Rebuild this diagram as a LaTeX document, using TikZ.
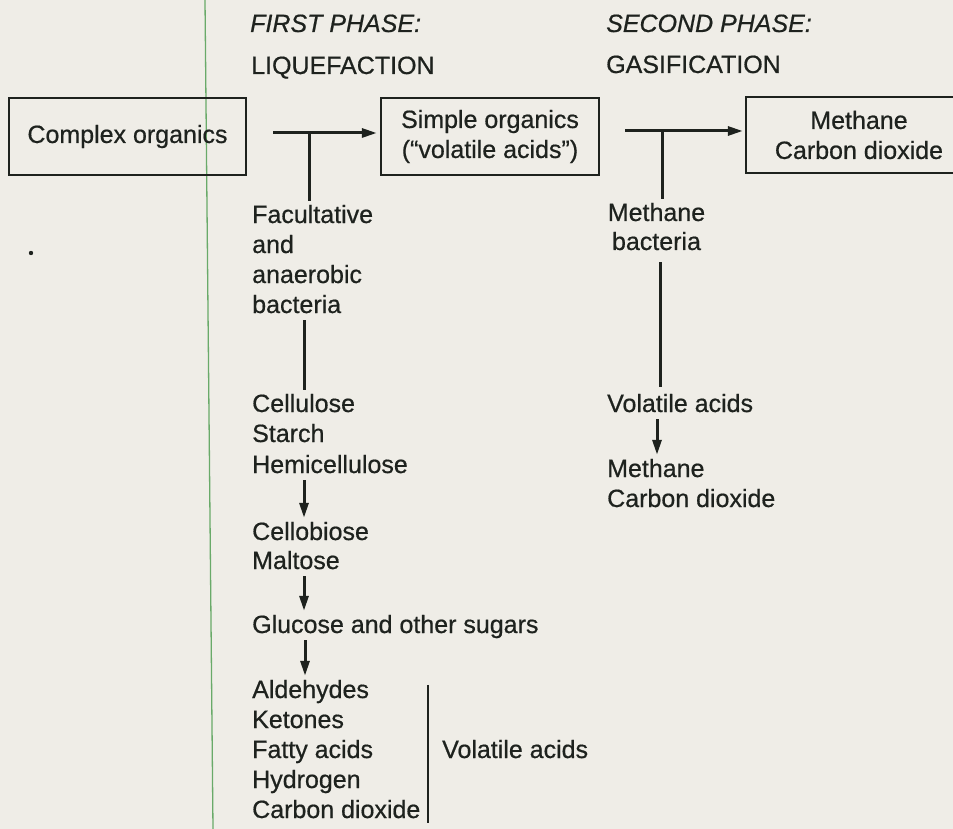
\documentclass[tikz,border=0pt]{standalone}
\usepackage{fontspec}
\setmainfont[FakeBold=0.6]{Liberation Sans}
\usetikzlibrary{arrows.meta,calc}
\definecolor{paper}{RGB}{239,237,231}
\definecolor{ink}{RGB}{30,34,30}
\definecolor{rulegreen}{RGB}{105,170,105}
\begin{document}
\begin{tikzpicture}[x=1pt,y=-1pt,
  every node/.style={font=\fontsize{25}{30}\selectfont, text=ink},
  txt/.style={inner sep=0pt, text height=22pt, text depth=7pt, anchor=base west},
  ctxt/.style={txt, anchor=base},
  ital/.style={font=\fontsize{25}{30}\selectfont\itshape},
  box/.style={draw=ink, line width=2.4pt, inner sep=0pt, align=center},
  openbox/.style={inner sep=0pt, align=center},
  boxline/.style={draw=ink, line width=2.4pt},
  flow/.style={draw=ink, line width=3pt},
  arr/.style={flow, -{Triangle[length=15pt,width=9pt]}},
  barline/.style={draw=ink, line width=2.4pt}]
\useasboundingbox (0,0) rectangle (953,829);
\clip (0,0) rectangle (953,829);
\fill[paper] (0,0) rectangle (953,829);
\draw[rulegreen, line width=1.3pt] (205,0) -- (213,829);
\fill[ink] (31,253) circle (2.2pt);
% boxes
\node[box, minimum width=237pt, minimum height=77pt] (co) at (127.5,136.5) {Complex organics};
\node[box, minimum width=218pt, minimum height=77pt] (so) at (490,136.5) {Simple organics\\(“volatile acids”)};
\node[openbox, minimum width=226pt, minimum height=76pt] (mc) at (859,135) {Methane\\Carbon dioxide};
\draw[boxline] ($(mc.north east)+(30,0)$) -- (mc.north west) -- (mc.south west) -- ($(mc.south east)+(30,0)$);
% headings
\node[txt, ital] (h1) at (250,32) {FIRST PHASE:};
\node[txt] (h2) at (251,74) {LIQUEFACTION};
\node[txt, ital] (h3) at (606,32) {SECOND PHASE:};
\node[txt] (h4) at (606,73) {GASIFICATION};
% left column
\node[txt] (fac) at (252,223) {Facultative};
\node[txt] (and) at (252,253) {and};
\node[txt] (ana) at (252,283) {anaerobic};
\node[txt] (bac) at (252,313) {bacteria};
\node[txt] (cel) at (252,412) {Cellulose};
\node[txt] (sta) at (252,442) {Starch};
\node[txt] (hem) at (252,473) {Hemicellulose};
\node[txt] (cbi) at (252,540) {Cellobiose};
\node[txt] (mal) at (252,569) {Maltose};
\node[txt] (glu) at (252,633) {Glucose and other sugars};
\node[txt] (ald) at (252,698) {Aldehydes};
\node[txt] (ket) at (252,728) {Ketones};
\node[txt] (fat) at (252,758) {Fatty acids};
\node[txt] (hyd) at (252,788) {Hydrogen};
\node[txt] (cdx) at (252,818) {Carbon dioxide};
\node[txt] (vac) at (442,758) {Volatile acids};
% right column
\node[ctxt] (mb1) at (656.5,221) {Methane};
\node[ctxt] (mb2) at (656.5,250) {bacteria};
\node[txt] (rva) at (607,412) {Volatile acids};
\node[txt] (rme) at (607,477) {Methane};
\node[txt] (rcd) at (607,507) {Carbon dioxide};
% reference coordinates
\coordinate (a1s) at (273,133);
\coordinate (t1) at (309,133);
\coordinate (a2s) at (625,131);
\coordinate (t2) at (662,131);
\coordinate (cx1) at (304,0);
\coordinate (cx2) at (305,0);
\coordinate (cx3) at (660,0);
\coordinate (cx4) at (657,0);
\coordinate (bx) at (428,0);
% connectors
\draw[arr, shorten >=3pt] (a1s) -- (a1s -| so.west);
\draw[flow] (t1) -- (fac.north -| t1);
\draw[arr, shorten >=3pt] (a2s) -- (a2s -| mc.west);
\draw[flow] (t2) -- (mb1.north -| t2);
\draw[flow] (bac.south -| cx1) -- (cel.north -| cx1);
\draw[arr] (hem.south -| cx1) -- (cbi.north -| cx1);
\draw[arr] (mal.south -| cx1) -- (glu.north -| cx1);
\draw[arr] (glu.south -| cx2) -- (ald.north -| cx2);
\draw[flow] ($(mb2.south -| cx3)+(0,5)$) -- ($(rva.north -| cx3)+(0,-3)$);
\draw[arr] (rva.south -| cx4) -- (rme.north -| cx4);
\draw[barline] ($(ald.north -| bx)+(0,9)$) -- ($(cdx.south -| bx)+(0,-2)$);
\end{tikzpicture}
\end{document}
